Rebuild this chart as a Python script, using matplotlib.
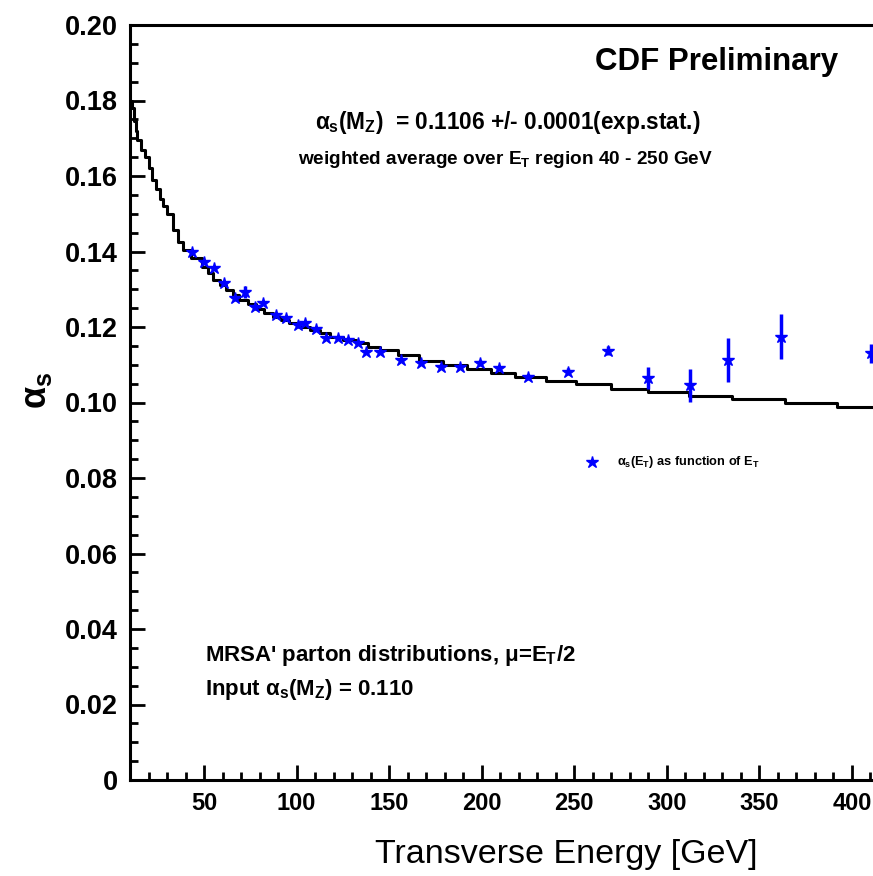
import matplotlib
matplotlib.use("Agg")
import matplotlib.pyplot as plt
from matplotlib.ticker import MultipleLocator

plt.rcParams['font.family'] = ['Liberation Sans', 'DejaVu Sans']
plt.rcParams['mathtext.fontset'] = 'custom'
plt.rcParams['mathtext.rm'] = 'Liberation Sans:bold'
plt.rcParams['mathtext.it'] = 'Liberation Sans:bold'
plt.rcParams['mathtext.bf'] = 'Liberation Sans:bold'

# measured alpha_s(E_T) points
et = [43.6, 50.2, 55.6, 61.0, 66.5, 71.9, 77.3, 81.7, 89.0, 94.4, 100.7,
      104.3, 110.6, 116.0, 122.3, 127.7, 133.1, 137.6, 144.8, 156.5, 167.0,
      178.1, 188.4, 199.2, 209.6, 224.9, 246.9, 268.5, 290.1, 312.3, 333.0,
      361.8, 410.4]
alpha = [0.1400, 0.1373, 0.1355, 0.1316, 0.1276, 0.1293, 0.1254, 0.1263,
         0.1232, 0.1223, 0.1205, 0.1210, 0.1196, 0.1170, 0.1170, 0.1166,
         0.1157, 0.1135, 0.1135, 0.1113, 0.1104, 0.1095, 0.1095, 0.1105,
         0.1091, 0.1067, 0.1082, 0.1137, 0.1064, 0.1046, 0.1113, 0.1174,
         0.1130]
alpha_err = [0.0005, 0.0005, 0.0005, 0.0005, 0.0006, 0.0015, 0.0006, 0.0006,
             0.0005, 0.0005, 0.0005, 0.0005, 0.0005, 0.0005, 0.0005, 0.0005,
             0.0005, 0.0005, 0.0005, 0.0005, 0.0005, 0.0006, 0.0006, 0.0007,
             0.0007, 0.0008, 0.0010, 0.0012, 0.0029, 0.0044, 0.0058, 0.0060,
             0.0025]

# running alpha_s prediction (step curve)
curve_et = [10, 11, 12, 13, 14, 16, 18, 20, 22, 24, 26, 28, 30, 33, 36,
            38.5, 43, 49, 52, 55, 58.5, 62, 65.5, 69, 73.5, 78, 82.5, 87,
            91.5, 96, 101.5, 107, 112.5, 118, 125, 132, 138.5, 145, 155, 166,
            179, 192, 205, 218, 235, 251, 270, 290, 312, 335, 364, 392, 420]
curve_as = [0.180, 0.178, 0.1745, 0.172, 0.1695, 0.167, 0.165, 0.162, 0.159,
            0.1565, 0.154, 0.152, 0.150, 0.1457, 0.1425, 0.1404, 0.1382,
            0.1360, 0.1342, 0.1325, 0.1310, 0.1298, 0.1285, 0.1272, 0.1260,
            0.1249, 0.1238, 0.1227, 0.1218, 0.1210, 0.1201, 0.1192, 0.1183,
            0.1174, 0.1165, 0.1157, 0.1148, 0.1139, 0.1126, 0.1110, 0.1100,
            0.1090, 0.1079, 0.1068, 0.1058, 0.1048, 0.1037, 0.1029, 0.1017,
            0.1008, 0.0998, 0.0987, 0.0987]

yticks = [0, 0.02, 0.04, 0.06, 0.08, 0.10, 0.12, 0.14, 0.16, 0.18, 0.20]
ytick_labels = ['0', '0.02', '0.04', '0.06', '0.08', '0.10', '0.12', '0.14',
                '0.16', '0.18', '0.20']
xticks = [50, 100, 150, 200, 250, 300, 350, 400]

W, H = 873, 876
fig = plt.figure(figsize=(W / 100, H / 100), dpi=100)
ax = fig.add_axes([130 / W, 1 - 780 / H, 760 / W, 755 / H])

ax.plot(curve_et, curve_as, color='black', lw=2.2, drawstyle='steps-post')
ax.errorbar(et, alpha, yerr=alpha_err, fmt='*', color='#0000ff',
            ms=9, elinewidth=2.5, capsize=0)

ax.set_xlim(10, 420.6)
ax.set_ylim(0, 0.20)
ax.set_xticks(xticks)
ax.set_yticks(yticks)
ax.set_yticklabels(ytick_labels)
ax.xaxis.set_minor_locator(MultipleLocator(10))
ax.yaxis.set_minor_locator(MultipleLocator(0.005))
ax.tick_params(which='both', direction='in', width=2, top=False, right=False)
ax.tick_params(which='major', length=11, pad=9)
ax.tick_params(axis='x', which='major', labelsize=17)
ax.tick_params(axis='y', which='major', labelsize=19.5)
ax.tick_params(which='minor', length=6)
for lab in ax.get_xticklabels() + ax.get_yticklabels():
    lab.set_fontweight('bold')
for s in ['left', 'bottom', 'top']:
    ax.spines[s].set_linewidth(2.2)
ax.spines['right'].set_visible(False)

fig.text(566 / W, 1 - 855 / H, 'Transverse Energy [GeV]', fontsize=24.5,
         ha='center', va='center')
fig.text(36 / W, 1 - 390 / H, r'$\alpha_s$', fontsize=26, rotation=90,
         ha='center', va='center')

fig.text(595 / W, 1 - 62 / H, 'CDF Preliminary', fontsize=22.5,
         fontweight='bold', ha='left', va='center')
fig.text(315 / W, 1 - 122 / H,
         r'$\alpha_s(M_Z)$  = 0.1106 +/- 0.0001(exp.stat.)', fontsize=16.3,
         fontweight='bold', ha='left', va='center')
fig.text(298 / W, 1 - 160 / H,
         r'weighted average over $E_T$ region 40 - 250 GeV', fontsize=13.7,
         fontweight='bold', ha='left', va='center')

ax.plot([592 / W], [1 - 462 / H], '*', color='#0000ff', ms=9,
        transform=fig.transFigure, clip_on=False)
fig.text(617 / W, 1 - 462 / H, r'$\alpha_s(E_T)$ as function of $E_T$',
         fontsize=9.2, fontweight='bold', ha='left', va='center')

fig.text(205 / W, 1 - 655 / H,
         r"MRSA' parton distributions, $\mu$=$E_T$/2", fontsize=16,
         fontweight='bold', ha='left', va='center')
fig.text(205 / W, 1 - 690 / H, r'Input $\alpha_s(M_Z)$ = 0.110',
         fontsize=16, fontweight='bold', ha='left', va='center')

fig.savefig('out.png', dpi=100)
